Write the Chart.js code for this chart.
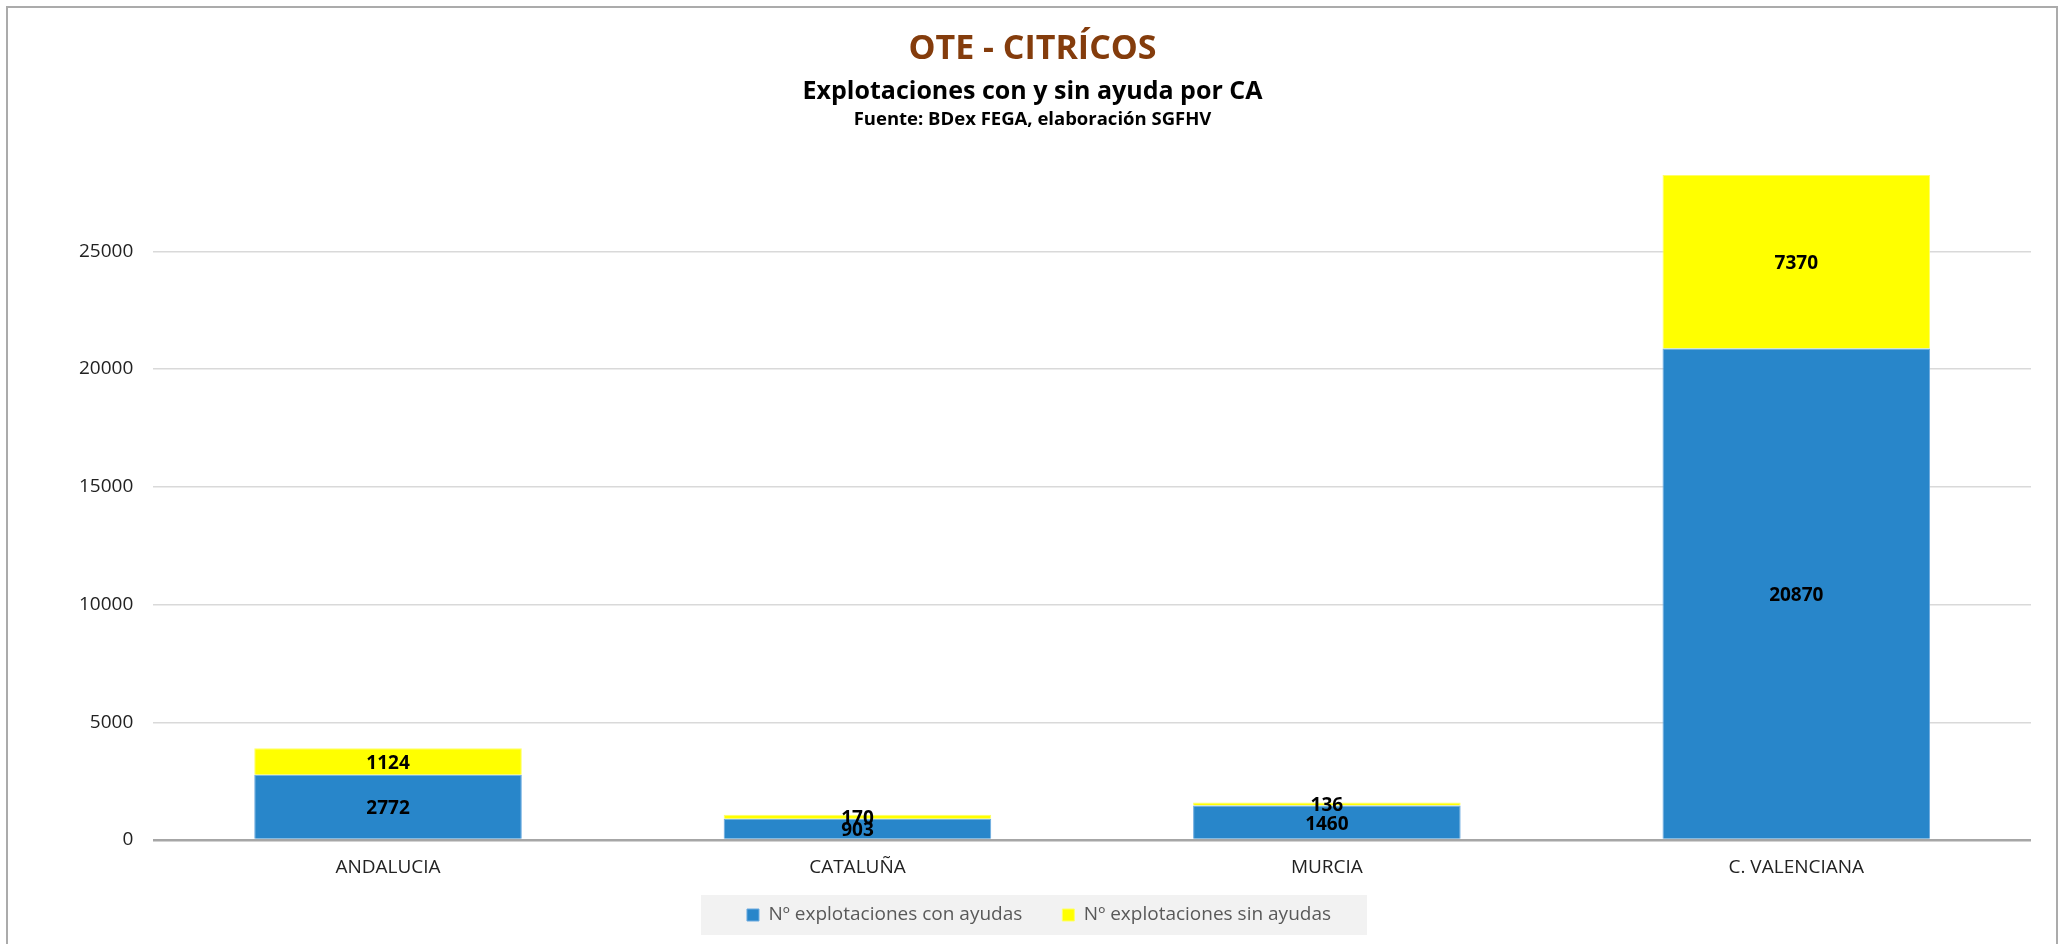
<!DOCTYPE html>
<html>
<head>
<meta charset="utf-8">
<script src="https://cdn.jsdelivr.net/npm/chart.js@4.4.1/dist/chart.umd.min.js"></script>
<style>
html, body { margin: 0; padding: 0; background: #fff; overflow: hidden; }
#wrap { position: relative; width: 2065px; height: 944px; }
#frame { position: absolute; left: 6px; top: 6px; width: 2052px; height: 980px; border: 2px solid #ababab; box-sizing: border-box; pointer-events: none; }
canvas { position: absolute; left: 0; top: 0; }
</style>
</head>
<body>
<div id="wrap">
  <canvas id="chart" width="2065" height="944"></canvas>
  <div id="frame"></div>
</div>
<script>
const categories = ['ANDALUCIA', 'CATALUÑA', 'MURCIA', 'C. VALENCIANA'];
const conAyudas = [2772, 903, 1460, 20870];
const sinAyudas = [1124, 170, 136, 7370];
const seriesNames = ['Nº explotaciones con ayudas', 'Nº explotaciones sin ayudas'];
const yTicks = [0, 5000, 10000, 15000, 20000, 25000];
const titleLines = ['OTE - CITRÍCOS', 'Explotaciones con y sin ayuda por CA', 'Fuente: BDex FEGA, elaboración SGFHV'];

const FONT = '"Open Sans", "Noto Sans", sans-serif';
const totals = conAyudas.map((v, i) => v + sinAyudas[i]);

// three heading lines, each with its own size
const headings = {
    id: 'headings',
    afterDraw(chart) {
        const ctx = chart.ctx;
        const x = chart.width / 2;
        ctx.save();
        ctx.textAlign = 'center';
        ctx.textBaseline = 'middle';
        ctx.fillStyle = '#843C0C';
        ctx.font = 'bold 34px ' + FONT;
        ctx.fillText(titleLines[0], x, 49);
        ctx.fillStyle = '#000';
        ctx.font = 'bold 25px ' + FONT;
        ctx.fillText(titleLines[1], x, 92);
        ctx.font = 'bold 18.5px ' + FONT;
        ctx.fillText(titleLines[2], x, 120);
        ctx.restore();
    }
};

// value in the middle of every segment
const barLabels = {
    id: 'barLabels',
    afterDatasetsDraw(chart) {
        const ctx = chart.ctx;
        ctx.save();
        ctx.font = 'bold 19px ' + FONT;
        ctx.fillStyle = '#000';
        ctx.textAlign = 'center';
        ctx.textBaseline = 'middle';
        chart.data.datasets.forEach((ds, i) => {
            chart.getDatasetMeta(i).data.forEach((bar, j) => {
                ctx.fillText(ds.data[j], bar.x, (bar.y + bar.base) / 2 + 2);
            });
        });
        ctx.restore();
    }
};

// legend: less reserved height, nudged up/left, grey panel behind it
const legendTweak = {
    id: 'legendTweak',
    beforeLayout(chart) {
        const lg = chart.legend;
        if (lg && !lg._patched) {
            const fit = lg.fit.bind(lg);
            lg.fit = function () { fit(); this.height = 48; };
            lg._patched = true;
        }
    },
    afterLayout(chart) {
        const lg = chart.legend;
        lg.top -= 30.5;
        lg.bottom = chart.height + 20;
        lg.left -= 6;
        lg.right -= 6;
    },
    beforeDraw(chart) {
        const boxes = chart.legend.legendHitBoxes;
        if (!boxes || !boxes.length) return;
        const left = Math.min(...boxes.map(b => b.left)) - 46;
        const right = Math.max(...boxes.map(b => b.left + b.width)) + 36;
        const mid = boxes[0].top + boxes[0].height / 2;
        const ctx = chart.ctx;
        ctx.save();
        ctx.fillStyle = '#f2f2f2';
        ctx.fillRect(left, mid - 20, right - left, 40);
        ctx.restore();
    }
};

new Chart(document.getElementById('chart'), {
    type: 'bar',
    data: {
        labels: categories,
        datasets: [{
            label: seriesNames[0],
            data: conAyudas,
            backgroundColor: '#2886CA',
            borderColor: '#6AAAE0',
            borderWidth: 1
        }, {
            label: seriesNames[1],
            data: sinAyudas,
            backgroundColor: '#FFFF00',
            borderColor: '#FFFF66',
            borderWidth: 1
        }]
    },
    options: {
        responsive: false,
        animation: false,
        layout: { padding: { left: 59, right: 34, top: 175, bottom: 0 } },
        datasets: { bar: { categoryPercentage: 1, barPercentage: 0.57 } },
        scales: {
            x: {
                stacked: true,
                grid: { display: false, drawTicks: false },
                border: { display: false },
                ticks: { color: '#222', font: { family: FONT, size: 19 }, padding: 16.6 }
            },
            y: {
                stacked: true,
                min: 0,
                max: Math.max(...totals),
                afterBuildTicks: axis => { axis.ticks = yTicks.map(v => ({ value: v })); },
                grid: {
                    drawTicks: false,
                    color: c => c.tick && c.tick.value === 0 ? '#a6a6a6' : '#d9d9d9',
                    lineWidth: c => c.tick && c.tick.value === 0 ? 2.5 : 1.5
                },
                border: { display: false },
                ticks: { color: '#222', font: { family: FONT, size: 19 }, padding: 20, callback: v => String(v) }
            }
        },
        plugins: {
            legend: {
                position: 'bottom',
                labels: {
                    color: '#595959',
                    font: { family: FONT, size: 19 },
                    boxWidth: 12,
                    boxHeight: 12,
                    padding: 40
                }
            },
            tooltip: { enabled: false }
        }
    },
    plugins: [headings, barLabels, legendTweak]
});
</script>
</body>
</html>
